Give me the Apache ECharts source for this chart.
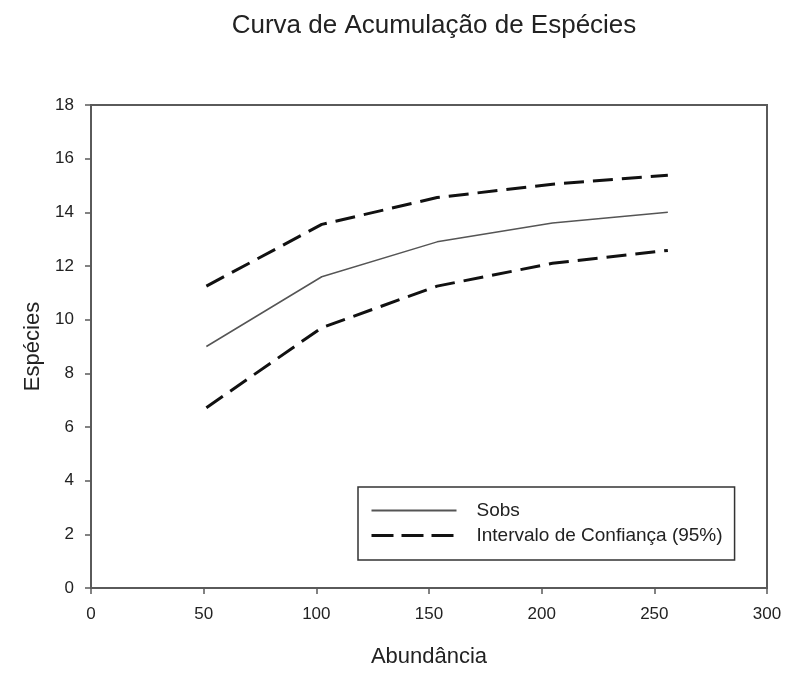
<!DOCTYPE html>
<html>
<head>
<meta charset="utf-8">
<script src="https://cdn.jsdelivr.net/npm/echarts@6/dist/echarts.min.js"></script>
<style>
  html, body { margin: 0; padding: 0; background: #fff; }
  #chart { width: 786px; height: 673px; }
</style>
</head>
<body>
<div id="chart"></div>
<script>
// Sample sizes (abundance) and the accumulation curve with its 95% interval
const abundance = [51.2, 102.4, 153.6, 204.8, 256];
const sobs = [9.0, 11.6, 12.9, 13.6, 14.0];
const upper95 = [11.25, 13.55, 14.55, 15.05, 15.38];
const lower95 = [6.72, 9.7, 11.25, 12.1, 12.58];

const xTicks = [0, 50, 100, 150, 200, 250, 300];
const yTicks = [0, 2, 4, 6, 8, 10, 12, 14, 16, 18];

const CI_NAME = 'Intervalo de Confiança (95%)';
const font = 'Liberation Sans, Arial, sans-serif';
const axisColor = '#5a5a5a';
const textColor = '#222';

const pairs = (ys) => abundance.map((x, i) => [x, ys[i]]);

const dashed = { color: '#111', width: 3, type: [20, 9] };

const chart = echarts.init(document.getElementById('chart'));
chart.setOption({
  animation: false,
  backgroundColor: '#fff',
  title: {
    text: 'Curva de Acumulação de Espécies',
    left: 429, top: 8, textAlign: 'center',
    textStyle: { fontFamily: font, fontSize: 26, fontWeight: 'normal', color: textColor }
  },
  grid: {
    left: 91, top: 105, right: 19, bottom: 81,
    show: true, borderColor: axisColor, borderWidth: 2, backgroundColor: 'transparent'
  },
  legend: {
    orient: 'vertical',
    left: 358, top: 487,
    padding: [14, 12, 15, 12],
    itemGap: 6,
    itemWidth: 85, itemHeight: 14,
    borderColor: '#333', borderWidth: 1.5,
    itemStyle: { opacity: 0 },
    data: [
      { name: 'Sobs' },
      { name: CI_NAME, lineStyle: { width: 3, type: [22, 8], color: '#111' } }
    ],
    textStyle: { fontFamily: font, fontSize: 19, color: textColor, padding: [0, 0, 0, 15] }
  },
  xAxis: {
    type: 'value', min: 0, max: 300, interval: 50,
    name: 'Abundância', nameLocation: 'middle', nameGap: 58,
    nameTextStyle: { fontFamily: font, fontSize: 22, color: textColor },
    axisLine: { show: true, lineStyle: { color: axisColor, width: 2 } },
    axisTick: { show: true, inside: false, length: 6, lineStyle: { color: axisColor, width: 1.5 } },
    axisLabel: {
      fontFamily: font, fontSize: 17, color: textColor, margin: 18,
      formatter: (v) => xTicks.includes(v) ? String(v) : ''
    },
    splitLine: { show: false }
  },
  yAxis: {
    type: 'value', min: 0, max: 18, interval: 2,
    name: 'Espécies', nameLocation: 'middle', nameGap: 47,
    nameTextStyle: { fontFamily: font, fontSize: 22, color: textColor },
    axisLine: { show: true, lineStyle: { color: axisColor, width: 2 } },
    axisTick: { show: true, inside: false, length: 6, lineStyle: { color: axisColor, width: 1.5 } },
    axisLabel: {
      fontFamily: font, fontSize: 17, color: textColor, margin: 17,
      formatter: (v) => yTicks.includes(v) ? String(v) : ''
    },
    splitLine: { show: false }
  },
  series: [
    {
      name: 'Sobs', type: 'line', data: pairs(sobs),
      symbol: 'none', lineStyle: { color: '#555', width: 1.5 },
      itemStyle: { color: '#555' }
    },
    {
      name: CI_NAME, type: 'line', data: pairs(upper95),
      symbol: 'none', lineStyle: dashed, itemStyle: { color: '#111' }
    },
    {
      name: CI_NAME, type: 'line', data: pairs(lower95),
      symbol: 'none', lineStyle: dashed, itemStyle: { color: '#111' }
    }
  ]
});
</script>
</body>
</html>
